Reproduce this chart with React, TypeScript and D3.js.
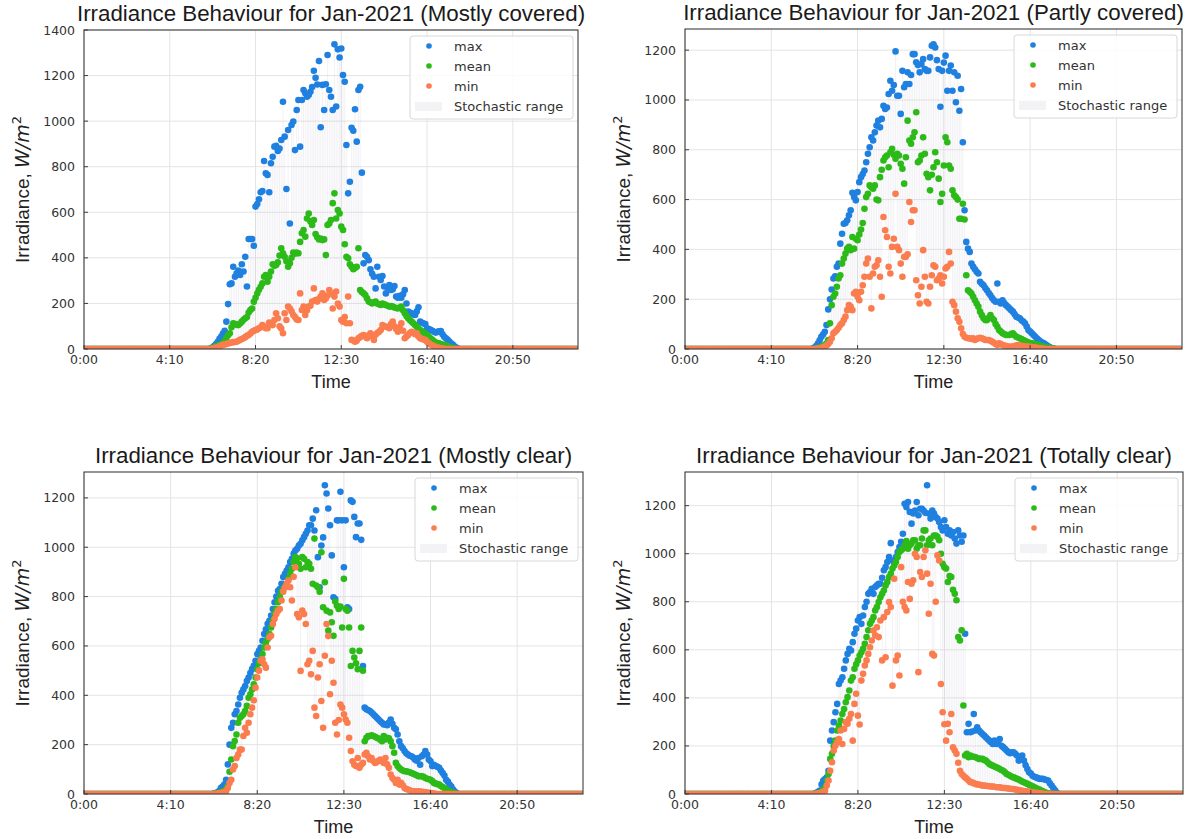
import React from 'react';
import * as d3 from 'd3';

// ---------- data (5-minute samples, index 0 = 0:00) ----------
const STEP_MINUTES = 5;
const SAMPLES_PER_DAY = 288;
const DAY_START_INDEX = 74; // first listed daytime sample (6:10)
const X_DOMAIN_MINUTES = [0, 1440];
const X_TICK_MINUTES = [0, 250, 500, 750, 1000, 1250];
const X_TICK_LABELS = ['0:00', '4:10', '8:20', '12:30', '16:40', '20:50'];
const LEGEND_LABELS = ['max', 'mean', 'min', 'Stochastic range'];

const TITLES = [
  'Irradiance Behaviour for Jan-2021 (Mostly covered)',
  'Irradiance Behaviour for Jan-2021 (Partly covered)',
  'Irradiance Behaviour for Jan-2021 (Mostly clear)',
  'Irradiance Behaviour for Jan-2021 (Totally clear)',
];
const Y_TICKS_1400 = [0, 200, 400, 600, 800, 1000, 1200, 1400];
const Y_TICKS_1200 = [0, 200, 400, 600, 800, 1000, 1200];
const Y_MAX = [1400, 1285, 1305, 1340];

// Panel 1: Mostly covered
const P1_MAX = [
  3, 8, 14, 22, 32, 45, 55, 68, 80, 120,
  197, 284, 288, 361, 317, 332, 344, 325, 372, 340,
  405, 274, 483, 483, 483, 453, 625, 636, 657, 688,
  693, 825, 771, 764, 688, 815, 844, 888, 892, 869,
  880, 917, 1085, 932, 702, 961, 551, 983, 998, 873,
  1049, 1093, 888, 1093, 1137, 1122, 1107, 1115, 1129, 1150,
  1221, 1190, 1161, 1264, 973, 1159, 1049, 1162, 1290, 1137,
  1107, 1049, 1337, 1064, 1315, 1279, 1319, 1202, 1173, 895,
  683, 734, 971, 958, 1052, 910, 1137, 1151, 774, 376,
  412, 405, 390, 350, 330, 317, 266, 361, 317, 303,
  320, 274, 244, 270, 281, 259, 262, 276, 230, 225,
  233, 225, 240, 259, 200, 164, 160, 157, 152, 149,
  165, 183, 120, 115, 112, 110, 91, 88, 84, 80,
  76, 72, 75, 78, 79, 65, 54, 47, 40, 33,
  25, 20, 12, 6, 2,
];
const P1_MEAN = [
  2, 5, 8, 12, 15, 18, 21, 25, 35, 48,
  60, 69, 95, 113, 110, 106, 105, 112, 120, 128,
  135, 140, 160, 171, 178, 207, 225, 244, 260, 273,
  288, 317, 325, 295, 317, 340, 372, 365, 369, 380,
  410, 442, 420, 405, 385, 361, 376, 400, 423, 418,
  423, 420, 470, 508, 522, 493, 573, 595, 560, 544,
  566, 505, 490, 481, 485, 478, 481, 412, 544, 551,
  566, 640, 683, 573, 610, 595, 537, 522, 460, 405,
  398, 372, 361, 350, 355, 361, 442, 259, 250, 244,
  237, 222, 208, 205, 200, 204, 208, 200, 196, 193,
  200, 196, 193, 190, 186, 188, 186, 182, 180, 178,
  182, 186, 170, 157, 145, 135, 127, 120, 113, 105,
  98, 90, 83, 78, 72, 66, 60, 54, 47, 40,
  34, 28, 26, 25, 22, 20, 17, 15, 12, 9,
  6, 4, 2, 1, 0,
];
const P1_MIN = [
  0, 2, 4, 6, 9, 12, 15, 18, 20, 22,
  25, 26, 28, 30, 31, 32, 36, 40, 44, 47,
  52, 58, 61, 68, 76, 80, 83, 86, 91, 95,
  105, 98, 91, 91, 116, 110, 105, 127, 157, 135,
  100, 90, 69, 157, 127, 186, 178, 165, 149, 140,
  130, 127, 244, 171, 186, 149, 170, 186, 190, 208,
  266, 215, 208, 220, 230, 244, 215, 222, 235, 259,
  244, 178, 230, 252, 200, 186, 127, 120, 140, 113,
  230, 113, 40, 38, 32, 36, 47, 52, 58, 61,
  55, 47, 60, 69, 55, 40, 62, 70, 76, 83,
  105, 100, 98, 95, 91, 110, 120, 100, 88, 76,
  95, 113, 80, 47, 55, 61, 70, 76, 72, 65,
  69, 55, 47, 44, 42, 40, 32, 25, 20, 16,
  12, 10, 7, 5, 3, 2, 1, 0, 0, 0,
  0, 0, 0, 0, 0,
];

// Panel 2: Partly covered
const P2_MAX = [
  2, 6, 12, 22, 35, 49, 58, 69, 96, 159,
  200, 239, 283, 292, 330, 343, 423, 463, 503, 506,
  517, 537, 557, 627, 610, 597, 630, 670, 690, 703,
  717, 750, 784, 810, 850, 837, 870, 897, 917, 890,
  924, 977, 964, 970, 1024, 1077, 1037, 1060, 1195, 1017,
  1017, 944, 1117, 1051, 1064, 1111, 1064, 1100, 1184, 1184,
  1151, 1140, 1111, 1144, 1164, 1124, 1117, 1117, 1171, 1218,
  1224, 1211, 1160, 1124, 973, 1117, 1150, 1178, 1037, 1117,
  1138, 1037, 1111, 991, 1097, 957, 1044, 830, 557, 430,
  403, 390, 343, 330, 320, 310, 303, 270, 262, 256,
  245, 236, 225, 216, 205, 196, 190, 263, 190, 183,
  196, 185, 176, 170, 163, 156, 150, 140, 130, 126,
  123, 115, 110, 103, 90, 76, 70, 63, 56, 49,
  42, 36, 30, 26, 23, 18, 13, 9, 5, 3,
  1, 0, 0, 0, 0,
];
const P2_MEAN = [
  0, 1, 2, 4, 6, 9, 12, 16, 22, 36,
  103, 176, 210, 223, 250, 283, 296, 343, 363, 383,
  403, 410, 397, 450, 403, 443, 437, 460, 480, 506,
  563, 610, 623, 657, 650, 644, 657, 600, 597, 690,
  720, 757, 770, 777, 730, 790, 804, 780, 764, 784,
  777, 744, 724, 664, 770, 917, 837, 824, 850, 870,
  951, 750, 757, 777, 850, 784, 704, 690, 637, 700,
  730, 790, 750, 684, 590, 623, 737, 850, 830, 737,
  724, 637, 617, 610, 600, 523, 523, 583, 520, 296,
  236, 230, 223, 210, 196, 183, 170, 150, 136, 123,
  116, 116, 125, 136, 123, 116, 100, 89, 76, 70,
  63, 60, 56, 56, 56, 60, 63, 55, 49, 46,
  43, 40, 36, 33, 29, 26, 24, 23, 21, 20,
  18, 16, 13, 11, 9, 7, 6, 5, 3, 2,
  1, 0, 0, 0, 0,
];
const P2_MIN = [
  0, 0, 1, 2, 3, 5, 7, 10, 14, 20,
  29, 43, 63, 69, 76, 85, 96, 103, 116, 130,
  156, 176, 170, 156, 223, 230, 210, 196, 230, 256,
  290, 343, 363, 290, 163, 303, 330, 336, 356, 290,
  210, 530, 477, 450, 330, 303, 410, 443, 623, 410,
  397, 343, 290, 370, 370, 380, 590, 510, 557, 557,
  276, 216, 183, 250, 397, 290, 190, 183, 250, 296,
  336, 330, 276, 283, 296, 263, 290, 323, 330, 390,
  343, 190, 176, 150, 123, 109, 83, 60, 49, 45,
  43, 43, 40, 43, 36, 40, 43, 45, 43, 40,
  36, 36, 36, 33, 29, 25, 20, 16, 23, 20,
  16, 14, 12, 10, 9, 10, 9, 12, 14, 16,
  14, 12, 12, 10, 10, 9, 9, 8, 7, 6,
  5, 4, 3, 2, 1, 0, 0, 0, 0, 0,
  0, 0, 0, 0, 0,
];

// Panel 3: Mostly clear
const P3_MAX = [
  0, 2, 4, 7, 12, 24, 30, 38, 58, 120,
  200, 268, 289, 323, 336, 363, 390, 410, 424, 438,
  458, 472, 490, 506, 520, 540, 567, 580, 594, 621,
  648, 668, 690, 702, 723, 750, 777, 800, 824, 831,
  852, 879, 892, 906, 919, 940, 953, 974, 987, 994,
  1007, 1014, 1028, 1041, 1055, 1068, 1089, 1089, 1116, 1068,
  1150, 960, 838, 1007, 1040, 1251, 1218, 1157, 1089, 967,
  797, 790, 1109, 1109, 1225, 1109, 919, 1109, 757, 750,
  1190, 1184, 1123, 1041, 1096, 1096, 1030, 519, 350, 343,
  340, 336, 330, 323, 316, 309, 302, 295, 289, 282,
  282, 279, 290, 302, 285, 268, 262, 241, 214, 194,
  185, 174, 165, 160, 155, 153, 148, 140, 135, 146,
  119, 153, 160, 174, 160, 140, 133, 113, 118, 113,
  110, 106, 95, 85, 75, 58, 50, 38, 30, 18,
  10, 4, 0, 0, 0,
];
const P3_MEAN = [
  0, 1, 2, 3, 5, 7, 10, 13, 18, 31,
  90, 140, 194, 215, 241, 289, 309, 316, 323, 336,
  357, 390, 404, 424, 445, 472, 506, 530, 545, 567,
  594, 614, 628, 648, 675, 702, 729, 750, 777, 797,
  818, 830, 838, 852, 872, 892, 913, 940, 960, 955,
  933, 913, 960, 953, 919, 940, 933, 913, 852, 1035,
  845, 838, 820, 980, 757, 858, 743, 662, 736, 696,
  641, 780, 763, 750, 760, 675, 872, 750, 743, 675,
  519, 580, 553, 530, 506, 580, 675, 500, 214, 228,
  235, 235, 238, 235, 232, 228, 225, 220, 214, 235,
  221, 228, 226, 214, 194, 167, 126, 113, 105, 99,
  95, 92, 92, 90, 88, 85, 82, 79, 76, 72,
  72, 72, 70, 65, 62, 60, 58, 52, 45, 42,
  40, 38, 32, 28, 24, 19, 14, 11, 8, 5,
  3, 1, 0, 0, 0,
];
const P3_MIN = [
  0, 0, 1, 2, 3, 4, 6, 8, 11, 24,
  45, 58, 99, 113, 146, 160, 180, 180, 235, 268,
  248, 289, 323, 350, 380, 431, 472, 500, 540, 546,
  526, 512, 594, 635, 641, 689, 710, 729, 743, 750,
  784, 820, 838, 852, 865, 838, 784, 880, 919, 729,
  716, 499, 743, 729, 689, 526, 540, 485, 580, 350,
  316, 472, 526, 377, 268, 560, 689, 640, 404, 540,
  451, 289, 241, 300, 363, 350, 323, 302, 289, 228,
  174, 133, 119, 113, 146, 106, 119, 126, 160, 167,
  153, 140, 146, 133, 126, 130, 135, 140, 133, 126,
  146, 120, 106, 79, 65, 58, 45, 58, 38, 45,
  35, 24, 20, 18, 15, 11, 11, 11, 10, 11,
  10, 9, 8, 7, 6, 5, 4, 3, 2, 1,
  0, 0, 0, 0, 0, 0, 0, 0, 0, 0,
  0, 0, 0, 0, 0,
];

// Panel 4: Totally clear
const P4_MAX = [
  0, 2, 5, 9, 14, 40, 56, 62, 69, 97,
  222, 264, 299, 340, 375, 458, 472, 486, 521, 556,
  583, 604, 597, 632, 667, 688, 722, 736, 708, 743,
  778, 800, 833, 840, 854, 833, 861, 868, 875, 875,
  900, 931, 944, 965, 986, 1044, 972, 958, 986, 1007,
  1028, 1050, 1083, 1208, 1194, 1215, 1174, 1125, 1167, 1180,
  1215, 1160, 1187, 1187, 1180, 1170, 1285, 1167, 1146, 1180,
  1167, 1153, 1146, 1132, 1111, 1097, 1139, 1111, 1083, 1097,
  1076, 1090, 1063, 1042, 1097, 1076, 1050, 1076, 667, 257,
  292, 257, 260, 333, 264, 278, 264, 257, 250, 243,
  236, 229, 222, 215, 208, 222, 208, 215, 229, 201,
  195, 188, 181, 174, 170, 174, 174, 167, 160, 139,
  153, 160, 139, 120, 104, 90, 85, 76, 72, 69,
  66, 63, 63, 63, 60, 58, 56, 45, 35, 25,
  15, 6, 0, 0, 0,
];
const P4_MEAN = [
  0, 1, 2, 4, 7, 10, 18, 28, 56, 83,
  146, 167, 200, 222, 264, 285, 306, 333, 354, 382,
  403, 431, 472, 486, 521, 540, 556, 576, 590, 604,
  625, 653, 681, 708, 722, 736, 764, 778, 799, 819,
  833, 847, 868, 882, 903, 917, 938, 951, 965, 986,
  1007, 1014, 1021, 1035, 1053, 1021, 1035, 1042, 1056, 1056,
  1021, 1035, 1035, 1063, 1097, 1097, 1035, 1056, 1063, 1035,
  1076, 1076, 1070, 1056, 1000, 958, 944, 938, 882, 907,
  903, 850, 833, 806, 653, 639, 681, 368, 160, 167,
  153, 160, 156, 155, 153, 150, 146, 146, 146, 142,
  139, 132, 125, 121, 118, 114, 111, 108, 104, 100,
  97, 90, 83, 80, 76, 72, 69, 66, 63, 60,
  56, 52, 49, 46, 42, 38, 35, 32, 28, 25,
  21, 18, 14, 11, 7, 5, 3, 2, 1, 0,
  0, 0, 0, 0, 0,
];
const P4_MIN = [
  0, 0, 1, 2, 4, 6, 9, 14, 35, 56,
  97, 132, 181, 201, 215, 229, 264, 208, 271, 299,
  292, 313, 333, 222, 375, 417, 326, 289, 472, 500,
  535, 556, 583, 611, 639, 680, 660, 694, 653, 722,
  556, 736, 569, 757, 799, 778, 451, 896, 556, 576,
  493, 944, 800, 778, 764, 882, 812, 875, 889, 1000,
  986, 507, 924, 903, 986, 1014, 917, 750, 875, 583,
  576, 800, 993, 972, 458, 340, 290, 222, 292, 257,
  333, 194, 181, 167, 130, 97, 83, 76, 69, 63,
  56, 49, 49, 45, 42, 40, 39, 37, 35, 35,
  34, 33, 32, 31, 31, 30, 28, 28, 28, 26,
  25, 25, 24, 23, 22, 21, 21, 19, 17, 16,
  14, 13, 12, 11, 10, 9, 8, 7, 6, 5,
  4, 3, 2, 1, 0, 0, 0, 0, 0, 0,
  0, 0, 0, 0, 0,
];

// ---------- layout & style ----------
const COLORS = { max: '#1f80e0', mean: '#2cba18', min: '#fb7d4f' };
const BOXES = [
  { l: 84, t: 30, r: 578, b: 349 },
  { l: 685, t: 29, r: 1182, b: 349 },
  { l: 84, t: 472, r: 583, b: 794 },
  { l: 685, t: 472, r: 1183, b: 794 },
];
const SANS = '"Liberation Sans", Arial, Helvetica, sans-serif';
const DEJAVU = '"DejaVu Sans", sans-serif';

const PANELS = [
  { title: TITLES[0], ymax: Y_MAX[0], yTicks: Y_TICKS_1400, max: P1_MAX, mean: P1_MEAN, min: P1_MIN },
  { title: TITLES[1], ymax: Y_MAX[1], yTicks: Y_TICKS_1200, max: P2_MAX, mean: P2_MEAN, min: P2_MIN },
  { title: TITLES[2], ymax: Y_MAX[2], yTicks: Y_TICKS_1200, max: P3_MAX, mean: P3_MEAN, min: P3_MIN },
  { title: TITLES[3], ymax: Y_MAX[3], yTicks: Y_TICKS_1200, max: P4_MAX, mean: P4_MEAN, min: P4_MIN },
];

function fullDay(day: number[]): number[] {
  return d3.range(SAMPLES_PER_DAY).map((i) => {
    const k = i - DAY_START_INDEX;
    return k >= 0 && k < day.length ? day[k] : 0;
  });
}

function Panel({ p, idx }: { p: any; idx: number }) {
  const { l, t, r, b } = BOXES[idx];
  const x = d3.scaleLinear().domain(X_DOMAIN_MINUTES).range([l, r]);
  const y = d3.scaleLinear().domain([0, p.ymax]).range([b, t]);
  const mx = fullDay(p.max);
  const mn = fullDay(p.mean);
  const mi = fullDay(p.min);
  const clipId = `clip-${idx}`;
  const lgW = 163, lgH = 83;
  const lgX = r - 5 - lgW, lgY = t + 6;
  const dot = (vals: number[], color: string, key: string) =>
    vals.map((v, i) => (
      <circle key={key + i} cx={x(i * STEP_MINUTES)} cy={y(v)} r={3.3} fill={color} />
    ));
  return (
    <g>
      <defs>
        <clipPath id={clipId}>
          <rect x={l} y={t} width={r - l} height={b - t} />
        </clipPath>
      </defs>
      <rect x={l} y={t} width={r - l} height={b - t} fill="#ffffff" />
      {X_TICK_MINUTES.map((m) => (
        <line key={'gx' + m} x1={x(m)} x2={x(m)} y1={t} y2={b} stroke="#e4e4e4" strokeWidth={1} />
      ))}
      {p.yTicks.map((v: number) => (
        <line key={'gy' + v} x1={l} x2={r} y1={y(v)} y2={y(v)} stroke="#e4e4e4" strokeWidth={1} />
      ))}
      <g clipPath={`url(#${clipId})`}>
        {mx.map((v, i) =>
          v > mi[i] ? (
            <line key={'sr' + i} x1={x(i * STEP_MINUTES)} x2={x(i * STEP_MINUTES)} y1={y(mi[i])} y2={y(v)}
              stroke="#c4c6d4" strokeOpacity={0.22} strokeWidth={1} />
          ) : null
        )}
        {dot(mx, COLORS.max, 'mx')}
        {dot(mn, COLORS.mean, 'mn')}
        {dot(mi, COLORS.min, 'mi')}
      </g>
      <rect x={l} y={t} width={r - l} height={b - t} fill="none" stroke="#3c3c3c" strokeWidth={1.1} />
      {X_TICK_MINUTES.map((m, k) => (
        <g key={'xt' + m}>
          <line x1={x(m)} x2={x(m)} y1={b} y2={b - 4} stroke="#3c3c3c" strokeWidth={1} />
          <text x={x(m)} y={b + 15} textAnchor="middle" fontFamily={DEJAVU} fontSize={12.5} fill="#333">
            {X_TICK_LABELS[k]}
          </text>
        </g>
      ))}
      {p.yTicks.map((v: number) => (
        <g key={'yt' + v}>
          <line x1={l} x2={l + 4} y1={y(v)} y2={y(v)} stroke="#3c3c3c" strokeWidth={1} />
          <text x={l - 9} y={y(v)} dy="0.36em" textAnchor="end" fontFamily={DEJAVU} fontSize={12.5} fill="#333">
            {v}
          </text>
        </g>
      ))}
      <text x={(l + r) / 2} y={t - 9} textAnchor="middle" fontFamily={SANS} fontSize={22.3} fill="#1a1a1a">
        {p.title}
      </text>
      <text x={(l + r) / 2} y={b + 39} textAnchor="middle" fontFamily={SANS} fontSize={18} fill="#222">
        Time
      </text>
      <text transform={`translate(${l - 55},${(t + b) / 2}) rotate(-90)`} textAnchor="middle"
        fontFamily={SANS} fontSize={19} fill="#222">
        Irradiance,{' '}
        <tspan fontFamily={DEJAVU} fontStyle="italic">W/m</tspan>
        <tspan fontFamily={DEJAVU} fontSize={13} dy={-8}>2</tspan>
      </text>
      <g>
        <rect x={lgX} y={lgY} width={lgW} height={lgH} rx={3} fill="#ffffff" fillOpacity={0.85}
          stroke="#d8d8d8" strokeWidth={1} />
        {[COLORS.max, COLORS.mean, COLORS.min].map((c, k) => (
          <circle key={'lgd' + k} cx={lgX + 19} cy={lgY + 10 + k * 20} r={2.8} fill={c} />
        ))}
        <rect x={lgX + 5} y={lgY + 66} width={27} height={9} fill="#f3f3f5" />
        {LEGEND_LABELS.map((s, k) => (
          <text key={'lgt' + k} x={lgX + 44} y={lgY + 10 + k * 20} dy="0.36em" fontFamily={DEJAVU}
            fontSize={13} fill="#333">
            {s}
          </text>
        ))}
      </g>
    </g>
  );
}

export default function App() {
  return (
    <svg width={1190} height={839} viewBox="0 0 1190 839"
      style={{ position: 'absolute', left: 0, top: 0, background: '#fff' }}>
      <rect x={0} y={0} width={1190} height={839} fill="#fff" />
      {PANELS.map((p, i) => (
        <Panel key={i} p={p} idx={i} />
      ))}
    </svg>
  );
}
